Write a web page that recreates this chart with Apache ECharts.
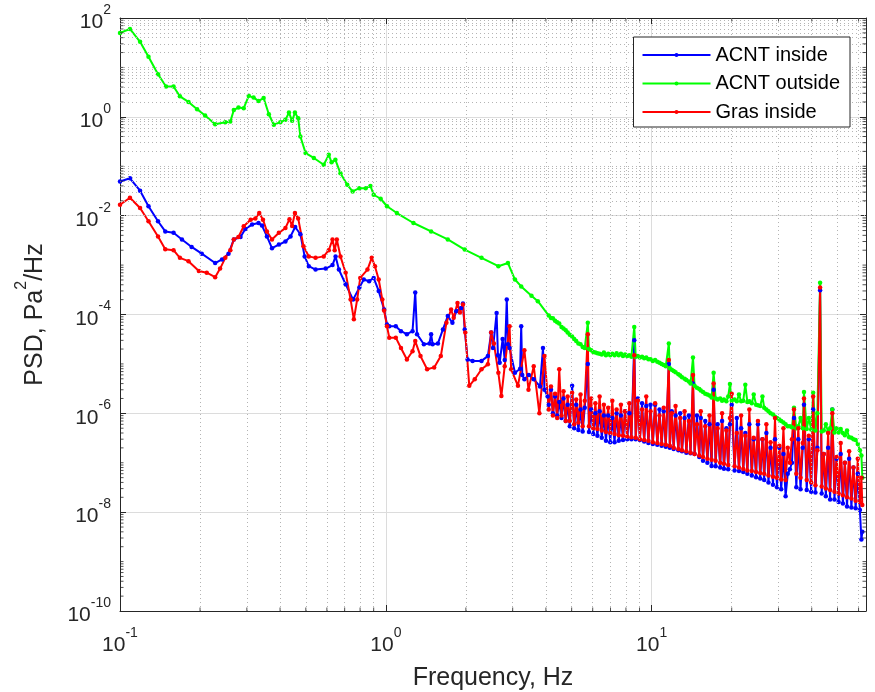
<!DOCTYPE html>
<html>
<head>
<meta charset="utf-8">
<script src="https://cdn.jsdelivr.net/npm/echarts@6/dist/echarts.min.js"></script>
<style>html,body{margin:0;padding:0;background:#fff}#c{width:875px;height:692px}</style>
</head>
<body>
<div id="c"></div>
<script>
// ---------- data ----------
const seriesNames = ['ACNT inside', 'ACNT outside', 'Gras inside'];

// low / mid frequency part (each series has its own frequency list)
const blueLF = [0.100,0.109,0.119,0.128,0.139,0.148,0.159,0.171,0.186,0.203,0.228,0.242,0.256,0.268,0.284,0.296,0.314,0.332,0.342,0.357,0.373,0.396,0.419,0.438,0.456,0.477,0.495,0.513,0.544,0.594,0.630,0.647,0.666,0.706,0.753,0.795,0.826,0.865,0.900,0.940,0.985,
1.01,1.03,1.09,1.14,1.20,1.26,1.29,1.31,1.39,1.46,1.48,1.50,1.57,1.64,1.71,1.78,1.84,1.92,1.95,1.98,2.03,2.12,2.29,2.42,2.49,2.53,2.61,2.64,2.68,2.75,2.80,2.85,2.88,2.92,3.06,3.20,3.23,3.26,3.32,3.45,3.60,3.80,3.90,3.95,4.06];
const blueLV = [0.049,0.057,0.032,0.0155,0.0077,0.0048,0.0045,0.0033,0.00233,0.0017,0.0011,0.0013,0.0017,0.0033,0.0037,0.0054,0.0066,0.0071,0.0063,0.0038,0.0022,0.0026,0.0030,0.0038,0.0059,0.0042,0.0015,0.00095,0.00081,0.00085,0.0010,0.0015,0.00081,0.00041,0.00020,0.00035,0.00051,0.00047,0.00055,0.00030,0.000126,
6.3e-5,5.8e-5,5.8e-5,4.6e-5,4.0e-5,4.6e-5,2.8e-4,4.0e-5,2.5e-5,2.6e-5,4.0e-5,2.5e-5,2.6e-5,5.0e-5,9.3e-5,6.8e-5,1.17e-4,1.36e-4,1.66e-4,5.0e-5,1.23e-5,1.15e-5,1.15e-5,1.44e-5,4.3e-5,2.1e-5,1.07e-4,1.5e-5,1.05e-5,3.2e-5,1.2e-5,2.0e-4,2.5e-5,2.1e-5,6.6e-6,8e-6,5.8e-5,6e-6,4.9e-6,6e-6,4.9e-6,3.5e-6,2.1e-5,3e-6,2.2e-6];

const greenLF = [0.100,0.109,0.119,0.128,0.139,0.149,0.159,0.168,0.181,0.195,0.209,0.228,0.249,0.260,0.268,0.279,0.292,0.305,0.318,0.332,0.347,0.363,0.379,0.401,0.419,0.432,0.444,0.455,0.468,0.477,0.499,0.536,0.584,0.610,0.625,0.646,0.675,0.716,0.750,0.795,0.840,0.875,0.900,0.956,
1.01,1.10,1.27,1.48,1.71,1.98,2.29,2.65,2.88,3.06,3.23,3.53,3.73];
const greenLV = [50,60,33,16.5,7.3,4.1,4.1,2.6,2.0,1.43,1.06,0.71,0.78,0.80,1.38,1.54,1.5,2.66,2.45,2.1,2.4,1.13,0.69,0.78,0.87,1.22,0.83,1.22,0.94,0.40,0.185,0.147,0.107,0.17,0.12,0.135,0.072,0.042,0.031,0.036,0.036,0.040,0.0265,0.022,
0.0155,0.0113,0.0071,0.0048,0.0033,0.00206,0.0014,0.00095,0.0011,0.00051,0.00037,0.00024,0.000186];

const redLF = [0.100,0.109,0.119,0.128,0.139,0.148,0.159,0.168,0.181,0.198,0.212,0.228,0.238,0.249,0.260,0.268,0.279,0.292,0.310,0.323,0.334,0.345,0.357,0.373,0.396,0.419,0.434,0.444,0.455,0.468,0.490,0.513,0.544,0.584,0.610,0.630,0.642,0.654,0.675,0.706,0.737,0.758,0.780,0.801,0.853,0.885,0.910,0.940,0.970,0.985,
1.01,1.03,1.09,1.14,1.20,1.26,1.29,1.35,1.43,1.52,1.61,1.69,1.76,1.80,1.86,1.90,1.95,1.99,2.06,2.16,2.29,2.42,2.49,2.55,2.65,2.72,2.80,2.92,2.96,3.14,3.32,3.44,3.60,3.78,3.95];
const redLV = [0.0166,0.023,0.0143,0.0077,0.0038,0.0021,0.0020,0.0014,0.0012,0.00076,0.00070,0.00057,0.00085,0.0014,0.0020,0.0033,0.0037,0.0061,0.0083,0.0088,0.0113,0.0083,0.0048,0.0033,0.0045,0.0056,0.0085,0.0062,0.0113,0.0088,0.0024,0.0015,0.0014,0.0015,0.0020,0.0033,0.0020,0.0033,0.0015,0.00070,0.00020,8.0e-5,0.00020,0.00055,0.00081,0.0014,0.00095,0.00051,0.00020,0.00012,
5.8e-5,3.4e-5,3.4e-5,2.1e-5,1.23e-5,1.8e-5,2.9e-5,1.44e-5,7.8e-6,8.5e-6,1.44e-5,6.8e-5,1.26e-4,8.6e-5,1.7e-4,1.1e-4,1.6e-4,4.3e-5,3.6e-6,4.9e-6,7.8e-6,9.8e-6,4.3e-5,2.6e-5,6.6e-6,2.24e-6,9e-6,5.8e-5,7.8e-6,3.6e-6,1.9e-5,3.0e-6,9e-6,1.0e-6,1.44e-5];

// high frequency part: shared frequency list, one value list per series
const hfF = [4.10,4.18,4.25,4.33,4.41,4.49,4.58,4.66,4.75,4.83,
4.92,5.02,5.11,5.20,5.30,5.40,5.50,5.60,5.75,5.81,
5.92,6.03,6.14,6.25,6.37,6.49,6.61,6.73,6.86,6.98,
7.11,7.25,7.38,7.52,7.66,7.80,7.94,8.09,8.24,8.39,
8.60,8.71,8.87,9.03,9.20,9.37,9.54,9.72,9.90,10.1,
10.3,10.5,10.7,10.9,11.1,11.3,11.6,11.7,11.9,12.1,
12.3,12.6,12.8,13.0,13.3,13.5,13.8,14.0,14.3,14.5,
14.8,15.1,15.3,15.6,15.9,16.2,16.5,16.8,17.1,17.4,
17.7,18.1,18.4,18.7,19.1,19.4,19.7,20.0,20.5,20.9,
21.3,21.7,22.1,22.5,22.9,23.3,23.8,24.2,24.7,25.1,
25.6,26.1,26.5,27.0,27.5,28.0,28.6,29.1,29.6,30.2,
30.7,31.3,31.9,32.5,33.1,33.7,34.3,35.0,35.6,36.3,
37.0,37.4,38.3,39.0,39.8,40.5,41.3,42.0,43.0,43.6,
44.4,45.2,46.1,46.9,47.8,48.7,49.6,50.5,51.4,52.4,
53.3,54.3,55.3,56.4,57.4,58.5,59.6,60.7,61.5,62.0];

const blueHV = [1.5e-6,3.0e-6,1.0e-6,2.2e-6,9e-7,1.7e-6,8e-7,2.0e-6,7e-7,1.5e-6,
5.5e-7,3.6e-6,5e-7,1.5e-6,4.6e-7,1.2e-6,4.3e-7,1.3e-6,1.0e-5,4.2e-7,
1.2e-6,3.8e-7,1.0e-6,3.5e-7,1.1e-6,3.2e-7,9e-7,2.8e-7,9e-7,2.6e-7,
8e-7,2.6e-7,1.0e-6,2.8e-7,9e-7,2.9e-7,1.1e-6,3.0e-7,1.0e-6,3.0e-7,
3.0e-5,3.0e-7,2.0e-6,2.9e-7,1.6e-6,2.7e-7,1.4e-6,2.5e-7,1.5e-6,2.4e-7,
1.5e-6,2.3e-7,1.2e-6,2.2e-7,1.1e-6,2.1e-7,1.0e-5,2.0e-7,1.1e-6,1.9e-7,
9e-7,1.8e-7,1.0e-6,1.7e-7,8e-7,1.6e-7,9e-7,1.55e-7,4.0e-6,1.5e-7,
9e-7,1.3e-7,8e-7,1.1e-7,7e-7,1.0e-7,6e-7,8.6e-8,3.0e-6,8.5e-8,
6e-7,8e-8,7e-7,7.6e-8,5e-7,7.4e-8,6e-7,1.5e-6,7e-8,8e-7,
6.8e-8,5e-7,6.5e-8,4e-7,6e-8,6e-7,5.5e-8,3e-7,5.1e-8,6e-7,
4.8e-8,3e-7,4.5e-8,4e-7,4e-8,2e-7,3.6e-8,3e-7,3.2e-8,2e-7,
2.9e-8,1.5e-7,2.1e-8,6e-8,7.4e-8,1e-7,8e-7,3.2e-8,3e-7,2.9e-8,
2e-7,1.5e-6,2.8e-8,3e-7,2.6e-8,1.2e-6,2.5e-8,2e-7,3.1e-4,2.4e-8,
1.5e-7,2.1e-8,2e-7,1.8e-8,1.2e-6,1.8e-8,1.2e-7,1.6e-8,1.5e-7,1.5e-8,
1e-7,1.3e-8,1.2e-7,1.25e-8,8e-8,1.2e-8,6e-8,1.1e-8,2.8e-9,4e-9];

const greenHV = [9.5e-5,8.5e-5,8.4e-5,7.5e-5,7e-5,6.6e-5,5.6e-5,5.2e-5,4.8e-5,4.3e-5,
3.9e-5,3.6e-5,3.2e-5,2.9e-5,2.6e-5,2.5e-5,2.2e-5,2.1e-5,6.8e-5,2.0e-5,
1.9e-5,1.75e-5,1.7e-5,1.65e-5,1.6e-5,1.55e-5,1.7e-5,1.5e-5,1.6e-5,1.5e-5,
1.6e-5,1.5e-5,1.65e-5,1.5e-5,1.6e-5,1.45e-5,1.55e-5,1.45e-5,1.5e-5,1.4e-5,
5.6e-5,1.4e-5,1.45e-5,1.35e-5,1.4e-5,1.3e-5,1.35e-5,1.25e-5,1.25e-5,1.15e-5,
1.2e-5,1.1e-5,1.05e-5,1.0e-5,9.5e-6,9e-6,2.6e-5,8.2e-6,7.6e-6,7.2e-6,
6.8e-6,6.2e-6,5.8e-6,5.4e-6,5.0e-6,4.7e-6,4.4e-6,4.0e-6,1.35e-5,3.6e-6,
3.3e-6,3.1e-6,2.9e-6,2.7e-6,2.5e-6,2.4e-6,2.3e-6,2.1e-6,6.6e-6,2.0e-6,
1.9e-6,2.0e-6,1.8e-6,1.9e-6,1.75e-6,2.2e-6,3.9e-6,1.8e-6,1.9e-6,1.75e-6,
2.4e-6,1.75e-6,1.8e-6,3.8e-6,1.7e-6,1.75e-6,1.6e-6,2.4e-6,1.5e-6,1.45e-6,
1.4e-6,2.2e-6,1.3e-6,1.2e-6,1.1e-6,1.0e-6,9.5e-7,8.5e-7,8e-7,7.5e-7,
7e-7,6.5e-7,6e-7,5.5e-7,5.5e-7,5.2e-7,1.3e-6,5e-7,5.5e-7,8e-7,
5e-7,2.7e-6,4.8e-7,8e-7,4.7e-7,2.6e-6,4.5e-7,1.0e-6,4.4e-4,4.3e-7,
4.5e-7,6e-7,4.2e-7,5e-7,1.2e-6,4.1e-7,5e-7,4.1e-7,4.8e-7,4.0e-7,
3.6e-7,4.5e-7,3.3e-7,3.2e-7,3.0e-7,2.9e-7,2.4e-7,1.8e-7,1.4e-7,5e-8];

const redHV = [1.2e-6,3.5e-6,9e-7,2.5e-6,8e-7,7.8e-6,9e-7,2.8e-6,7e-7,2.2e-6,
7e-7,2.6e-6,6e-7,1.9e-6,6.5e-7,2.4e-6,5.5e-7,1.8e-6,4.0e-5,5.5e-7,
2.0e-6,5e-7,1.6e-6,4.8e-7,2.2e-6,4.5e-7,1.5e-6,4.2e-7,1.3e-6,4.0e-7,
1.8e-6,3.8e-7,1.2e-6,3.6e-7,1.5e-6,3.5e-7,1.1e-6,3.4e-7,1.6e-6,3.3e-7,
1.5e-5,3.2e-7,1.8e-6,3.0e-7,1.2e-6,2.9e-7,2.2e-6,2.8e-7,1.1e-6,2.6e-7,
1.6e-6,2.5e-7,9e-7,2.4e-7,1.3e-6,2.3e-7,1.2e-5,2.2e-7,1.0e-6,2.0e-7,
1.4e-6,1.9e-7,8e-7,1.8e-7,1.1e-6,1.7e-7,7e-7,1.6e-7,6.0e-6,1.5e-7,
6e-7,1.4e-7,1.1e-6,1.3e-7,5.5e-7,1.2e-7,9e-7,1.15e-7,4.0e-6,1.1e-7,
5e-7,1.0e-7,1.0e-6,9.5e-8,4.5e-7,9e-8,8e-7,2.5e-6,8.5e-8,4e-7,
8e-8,9e-7,7.5e-8,3.5e-7,7e-8,1.2e-6,6.8e-8,3.2e-7,6.5e-8,7e-7,
6.2e-8,3e-7,6e-8,6e-7,5.5e-8,2.6e-7,5.2e-8,8e-7,5e-8,2.2e-7,
4.6e-8,5e-7,4.5e-8,2e-7,1.0e-7,3e-7,1.2e-6,6e-8,5e-7,5e-8,
2.5e-7,2.0e-6,4.5e-8,3.5e-7,4e-8,2.2e-6,3.5e-8,1.8e-7,3.5e-4,3.3e-8,
1.5e-7,3e-8,4e-7,2.8e-8,1.0e-6,2.6e-8,1.3e-7,2.4e-8,2.5e-7,2.2e-8,
1.0e-7,2.0e-8,1.7e-7,1.9e-8,8e-8,1.7e-8,1.2e-7,1.6e-8,5e-8,1.4e-8];

// axis extents and tick mantissas
const xMin = 0.1, xMax = 64;
const yMin = 1e-10, yMax = 1e2;
const minorMantissa = [2, 3, 4, 5, 6, 7, 8, 9];

// ---------- helpers ----------
const pairs = (lf, lv, hf, hv) => lf.map((x, i) => [x, lv[i]]).concat(hf.map((x, i) => [x, hv[i]]));
const xMinor = [];
for (let k = -1; k <= 1; k++) minorMantissa.forEach(m => { const v = m * Math.pow(10, k); if (v < xMax) xMinor.push(v); });
const yMinor = [];
for (let k = -10; k <= 1; k++) {
  if (k % 2 !== 0) yMinor.push(Math.pow(10, k));
  minorMantissa.forEach(m => yMinor.push(m * Math.pow(10, k)));
}
const FONT = 'Liberation Sans, Arial, Helvetica, sans-serif';
const TXT = '#262626';
const powLabel = v => {
  const l = Math.log10(v), e = Math.round(l);
  if (Math.abs(l - e) > 1e-6) return '';
  return '{b|10}{s|' + e + '}';
};
const labelRich = {
  b: { fontSize: 21, fontFamily: FONT, color: TXT, padding: [9, 0, 0, 0] },
  s: { fontSize: 14, fontFamily: FONT, color: TXT, verticalAlign: 'top' }
};

const baseX = { type: 'log', logBase: 10, min: xMin, max: xMax };
const baseY = { type: 'log', logBase: 100, min: yMin, max: yMax };

const chart = echarts.init(document.getElementById('c'), null, { renderer: 'canvas' });
const lineSeries = (name, color, data) => ({
  name, type: 'line', data, z: 2,
  symbol: 'circle', symbolSize: 4.5, showSymbol: true, showAllSymbol: true,
  lineStyle: { width: 2, color }, itemStyle: { color },
  emphasis: { disabled: true }, animation: false, clip: true
});
const tickSeries = (data, size, offset) => ({
  type: 'scatter', data, symbol: 'rect', symbolSize: size, symbolOffset: offset,
  itemStyle: { color: TXT }, silent: true, clip: false, z: 5, animation: false
});

chart.setOption({
  animation: false,
  backgroundColor: '#ffffff',
  grid: { left: 120, right: 9, top: 18, bottom: 81, containLabel: false, outerBoundsMode: 'none' },
  legend: {
    data: seriesNames, orient: 'vertical', right: 25, top: 37, z: 20,
    backgroundColor: '#ffffff', borderColor: TXT, borderWidth: 1,
    padding: [8, 10, 5, 8], itemWidth: 68, itemHeight: 5, itemGap: 8.5,
    selectedMode: false,
    textStyle: { fontSize: 20, fontFamily: FONT, color: '#000' }
  },
  xAxis: [
    Object.assign({}, baseX, {
      position: 'bottom',
      name: 'Frequency, Hz', nameLocation: 'middle', nameGap: 55,
      nameTextStyle: { fontSize: 25, fontFamily: FONT, color: TXT },
      axisLine: { show: true, lineStyle: { color: TXT, width: 1 } },
      axisTick: { show: true, inside: true, length: 6, lineStyle: { color: TXT } },
      axisLabel: { formatter: powLabel, rich: labelRich, margin: 15 },
      splitLine: { show: true, lineStyle: { color: '#dcdcdc', width: 1 } },
      minorTick: { show: false }
    }),
    Object.assign({}, baseX, {
      position: 'top',
      axisLine: { show: true, lineStyle: { color: TXT, width: 1 } },
      axisTick: { show: true, inside: true, length: 6, lineStyle: { color: TXT } },
      axisLabel: { show: false }, splitLine: { show: false }
    })
  ],
  yAxis: [
    Object.assign({}, baseY, {
      position: 'left',
      name: '{a|PSD, Pa}{s|2}{a|/Hz}', nameLocation: 'middle', nameGap: 72, nameRotate: 90,
      nameTextStyle: {
        rich: {
          a: { fontSize: 25, fontFamily: FONT, color: TXT, padding: [9, 0, 0, 0] },
          s: { fontSize: 16, fontFamily: FONT, color: TXT, verticalAlign: 'top' }
        }
      },
      axisLine: { show: true, lineStyle: { color: TXT, width: 1 } },
      axisTick: { show: true, inside: true, length: 6, lineStyle: { color: TXT } },
      axisLabel: { formatter: powLabel, rich: labelRich, margin: 9 },
      splitLine: { show: true, lineStyle: { color: '#dcdcdc', width: 1 } }
    }),
    Object.assign({}, baseY, {
      position: 'right',
      axisLine: { show: true, lineStyle: { color: TXT, width: 1 } },
      axisTick: { show: true, inside: true, length: 6, lineStyle: { color: TXT } },
      axisLabel: { show: false }, splitLine: { show: false }
    })
  ],
  series: [
    {
      type: 'line', data: [], z: 1, symbol: 'none', silent: true, animation: false,
      markLine: {
        silent: true, symbol: 'none', animation: false, label: { show: false },
        lineStyle: { type: [1, 3], color: '#b4b4b4', width: 1 },
        emphasis: { disabled: true },
        data: xMinor.map(v => ({ xAxis: v })).concat(yMinor.map(v => ({ yAxis: v })))
      }
    },
    tickSeries(xMinor.map(v => [v, yMin]), [1, 3.5], [0, -1.75]),
    tickSeries(xMinor.map(v => [v, yMax]), [1, 3.5], [0, 1.75]),
    tickSeries(yMinor.map(v => [xMin, v]), [3.5, 1], [1.75, 0]),
    tickSeries(yMinor.map(v => [xMax, v]), [3.5, 1], [-1.75, 0]),
    lineSeries(seriesNames[0], '#0000ff', pairs(blueLF, blueLV, hfF, blueHV)),
    lineSeries(seriesNames[1], '#00ff00', pairs(greenLF, greenLV, hfF, greenHV)),
    lineSeries(seriesNames[2], '#ff0000', pairs(redLF, redLV, hfF, redHV))
  ]
});
</script>
</body>
</html>
